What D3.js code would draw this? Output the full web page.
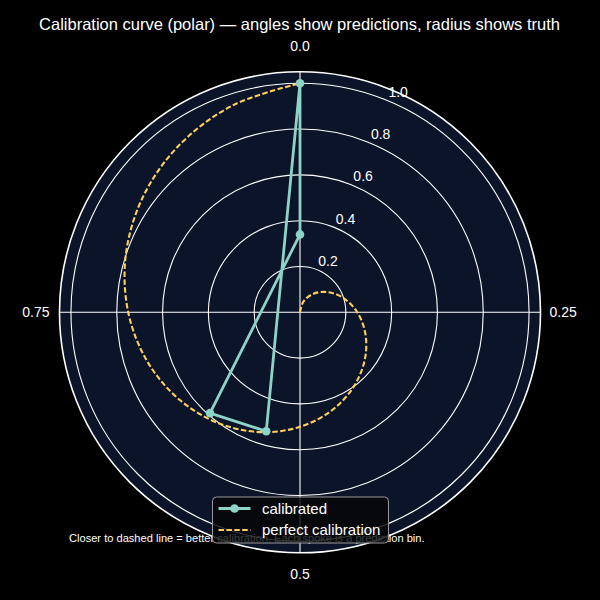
<!DOCTYPE html>
<html>
<head>
<meta charset="utf-8">
<script src="https://cdn.jsdelivr.net/npm/d3@7"></script>
<style>
  html, body { margin: 0; padding: 0; background: #000; }
  svg { display: block; }
  text { font-family: "Liberation Sans", Arial, sans-serif; fill: #fff; }
</style>
</head>
<body>
<script>
// ---- data ----
const binPredicted = [0.0, 1.0, 0.544, 0.616];   // mean predicted probability per bin (angle)
const binObserved  = [0.34, 1.0, 0.54, 0.59];    // observed fraction of positives (radius)
const perfectP = [0, 0.05, 0.1, 0.15, 0.2, 0.25, 0.3, 0.35, 0.4, 0.45, 0.5,
                  0.55, 0.6, 0.65, 0.7, 0.75, 0.8, 0.85, 0.9, 0.95, 1.0];
const angleTicks = [0.0, 0.25, 0.5, 0.75];
const angleTickLabels = ["0.0", "0.25", "0.5", "0.75"];
const radialTicks = [0.2, 0.4, 0.6, 0.8, 1.0];
const radialTickLabels = ["0.2", "0.4", "0.6", "0.8", "1.0"];
const titleText = "Calibration curve (polar) \u2014 angles show predictions, radius shows truth";
const noteText = "Closer to dashed line = better calibration. Each spoke is a prediction bin.";
const legendLabels = ["calibrated", "perfect calibration"];

// ---- layout ----
const W = 600, H = 600;
const cx = 300, cy = 312.3, R = 240.5;
const rMax = 1.05;
const colCal = "#8dd3c7", colPerf = "#ffcf5c", axBg = "#0b1429";

const svg = d3.select("body").append("svg").attr("width", W).attr("height", H);
svg.append("rect").attr("width", W).attr("height", H).attr("fill", "#000");

const r = d3.scaleLinear().domain([0, rMax]).range([0, R]);
const a = d3.scaleLinear().domain([0, 1]).range([0, 2 * Math.PI]);

const g = svg.append("g").attr("transform", `translate(${cx},${cy})`);

// axes background
g.append("circle").attr("r", R).attr("fill", axBg);

// rings
g.selectAll("circle.ring").data(radialTicks).join("circle")
  .attr("class", "ring").attr("r", d => r(d))
  .attr("fill", "none").attr("stroke", "#fff").attr("stroke-width", 1.1);

// spokes
g.selectAll("line.spoke").data(angleTicks).join("line")
  .attr("x1", 0).attr("y1", 0)
  .attr("x2", d => R * Math.sin(a(d)))
  .attr("y2", d => -R * Math.cos(a(d)))
  .attr("stroke", "#fff").attr("stroke-width", 1.1);

// outer spine
g.append("circle").attr("r", R).attr("fill", "none").attr("stroke", "#fff").attr("stroke-width", 1.6);

// radial tick labels at 22.5deg
const rlabAng = 22.5 * Math.PI / 180;
g.selectAll("text.rlab").data(radialTicks).join("text")
  .attr("x", d => r(d) * Math.sin(rlabAng) + 10.5)
  .attr("y", d => -r(d) * Math.cos(rlabAng) - 9 + 5)
  .attr("text-anchor", "middle")
  .attr("font-size", 14)
  .text((d, i) => radialTickLabels[i]);

// angle tick labels
g.selectAll("text.alab").data(angleTicks).join("text")
  .attr("x", d => {
    const s = Math.sin(a(d));
    if (s > 0.5) return R + 9;
    if (s < -0.5) return -R - 10;
    return 0;
  })
  .attr("y", d => {
    const c = Math.cos(a(d));
    if (c > 0.5) return -R - 21;
    if (c < -0.5) return R + 26.3;
    return 5;
  })
  .attr("text-anchor", d => {
    const s = Math.sin(a(d));
    return s > 0.5 ? "start" : (s < -0.5 ? "end" : "middle");
  })
  .attr("font-size", 14)
  .text((d, i) => angleTickLabels[i]);

// perfect calibration spiral
const perfLine = d3.lineRadial()
  .angle(d => a(d)).radius(d => r(d))
  .curve(d3.curveCatmullRom);
g.append("path").datum(perfectP)
  .attr("d", perfLine)
  .attr("fill", "none").attr("stroke", colPerf)
  .attr("stroke-width", 2.1).attr("stroke-dasharray", "5.5,2.4");

// calibrated curve
const bins = binPredicted.map((p, i) => ({ p, o: binObserved[i] }));
const calLine = d3.lineRadial()
  .angle(d => a(d.p)).radius(d => r(d.o))
  .curve(d3.curveLinearClosed);
g.append("path").datum(bins)
  .attr("d", calLine)
  .attr("fill", "none").attr("stroke", colCal)
  .attr("stroke-width", 2.8).attr("stroke-linejoin", "round");
g.selectAll("circle.pt").data(bins).join("circle")
  .attr("cx", d => r(d.o) * Math.sin(a(d.p)))
  .attr("cy", d => -r(d.o) * Math.cos(a(d.p)))
  .attr("r", 4.3).attr("fill", colCal);

// title
svg.append("text").attr("x", 299.5).attr("y", 29.5)
  .attr("text-anchor", "middle").attr("font-size", 16.5).text(titleText);

// footnote
svg.append("text").attr("x", 69).attr("y", 542)
  .attr("font-size", 11.1).text(noteText);

// legend
const lg = svg.append("g").attr("transform", "translate(212.5,497)");
lg.append("rect").attr("width", 176).attr("height", 46).attr("rx", 4)
  .attr("fill", "#050505").attr("fill-opacity", 0.8)
  .attr("stroke", "#9a9a9a").attr("stroke-width", 1);
lg.append("line").attr("x1", 6).attr("x2", 38).attr("y1", 11.5).attr("y2", 11.5)
  .attr("stroke", colCal).attr("stroke-width", 2.8);
lg.append("circle").attr("cx", 22).attr("cy", 11.5).attr("r", 4.3).attr("fill", colCal);
lg.append("line").attr("x1", 6).attr("x2", 38).attr("y1", 33).attr("y2", 33)
  .attr("stroke", colPerf).attr("stroke-width", 2.1).attr("stroke-dasharray", "5.5,2.4");
lg.selectAll("text.lt").data(legendLabels).join("text")
  .attr("x", 49.5).attr("y", (d, i) => 16.5 + i * 21.5)
  .attr("font-size", 15).text(d => d);
</script>
</body>
</html>
